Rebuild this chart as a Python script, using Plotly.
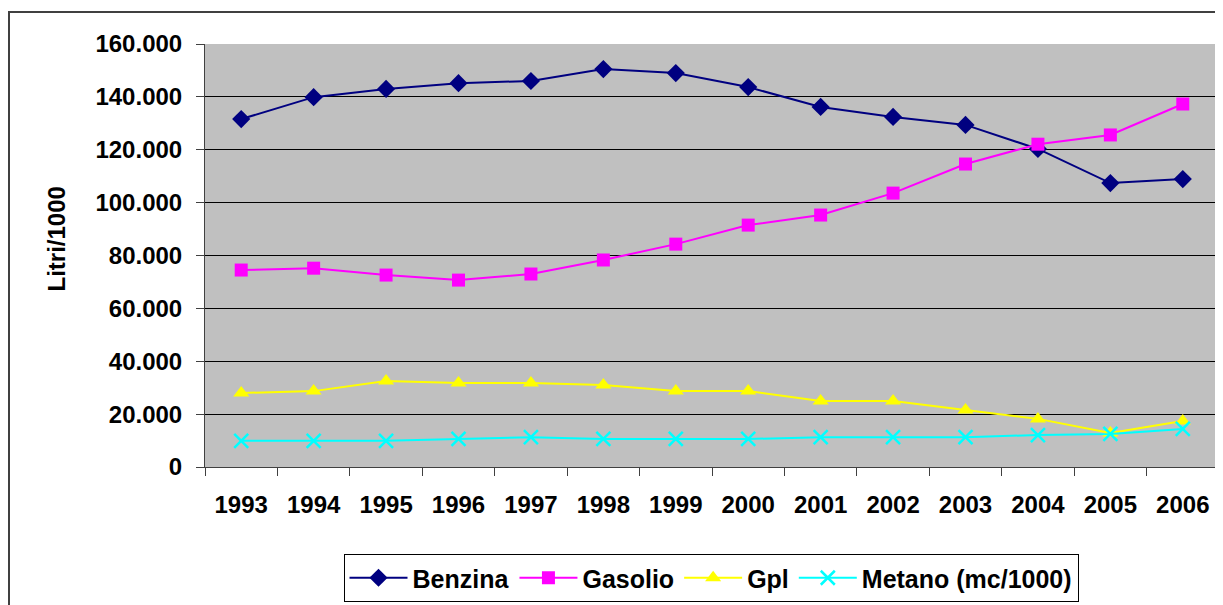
import plotly.graph_objects as go

years = ["1993", "1994", "1995", "1996", "1997", "1998", "1999", "2000",
         "2001", "2002", "2003", "2004", "2005", "2006"]
benzina = [131600, 139900, 143000, 145200, 146000, 150500, 149000, 143700,
           136200, 132400, 129400, 120300, 107400, 108900]
gasolio = [74500, 75200, 72600, 70700, 73000, 78300, 84300, 91500,
           95300, 103600, 114600, 122100, 125600, 137300]
gpl = [28000, 28700, 32500, 31800, 31800, 31000, 28700, 28700,
       25000, 25000, 21600, 18200, 12900, 17400]
metano = [9900, 9900, 9900, 10600, 11300, 10600, 10600, 10600,
          11300, 11300, 11300, 12100, 12500, 14400]

names = ["Benzina", "Gasolio", "Gpl", "Metano (mc/1000)"]
colors = ["#000080", "#FF00FF", "#FFFF00", "#00FFFF"]
symbols = ["diamond", "square", "triangle-up", "x-thin"]
sizes = [14, 13, 14, 14]
series = [benzina, gasolio, gpl, metano]

fig = go.Figure()
for n, c, s, sz, v in zip(names, colors, symbols, sizes, series):
    marker = dict(symbol=s, size=sz, color=c)
    if s == "x-thin":
        marker["line"] = dict(color=c, width=2.5)
    fig.add_trace(go.Scatter(x=years, y=v, name=n, mode="lines+markers",
                             line=dict(color=c, width=2), marker=marker))

# page body has an 8px margin; work in target-pixel coordinates
OFF = 8
W, H = 1223 - OFF, 605 - OFF
ml, mr, mt, mb = 205 - OFF, 4, 44 - OFF, 605 - 467
pw, ph = W - ml - mr, H - mt - mb

def px(x):
    return (x - OFF - ml) / pw

def py(y):
    return (H - mb - (y - OFF)) / ph

font = "Liberation Sans, Arial, sans-serif"
fig.update_layout(
    width=W, height=H,
    margin=dict(l=ml, r=mr, t=mt, b=mb, autoexpand=False),
    paper_bgcolor="white", plot_bgcolor="#C0C0C0",
    separators=",.",
    font=dict(family=font, size=24, color="black"),
    showlegend=True,
    legend=dict(orientation="h", x=px(711), xanchor="center", y=py(554), yanchor="top",
                bordercolor="black", borderwidth=1, bgcolor="white",
                font=dict(family=font, size=25, color="black", weight="bold"),
                itemwidth=58, tracegroupgap=0),
    xaxis=dict(type="category", tickson="boundaries", ticks="outside", ticklen=8,
               tickcolor="#404040", showline=True, linecolor="#404040", linewidth=1,
               showgrid=False, tickfont=dict(family=font, size=24, weight="bold"),
               ticklabelstandoff=16, range=[-0.5, 13.5], automargin=False),
    yaxis=dict(range=[0, 160000], dtick=20000, tickformat=",d", ticks="outside",
               ticklen=8, tickcolor="#404040", showline=True, linecolor="#404040",
               linewidth=1, showgrid=True, gridcolor="black", gridwidth=1,
               zeroline=False, ticklabelstandoff=9, automargin=False,
               tickfont=dict(family=font, size=24, weight="bold")),
    shapes=[dict(type="rect", xref="paper", yref="paper", x0=px(9), y0=py(700),
                 x1=px(1300), y1=py(12), line=dict(color="#404040", width=2),
                 layer="below")],
    annotations=[dict(text="<b>Litri/1000</b>", xref="paper", yref="paper",
                      x=px(40), y=py(239), textangle=-90, showarrow=False,
                      font=dict(family=font, size=24, color="black"))],
)

fig.write_html("out.html")
